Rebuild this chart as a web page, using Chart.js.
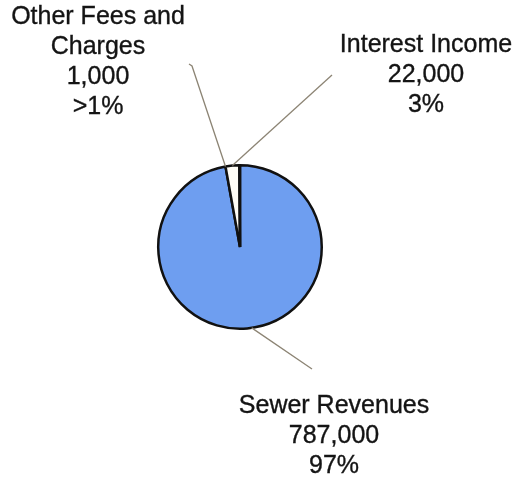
<!DOCTYPE html>
<html>
<head>
<meta charset="utf-8">
<script src="https://cdn.jsdelivr.net/npm/chart.js@4/dist/chart.umd.min.js"></script>
<style>
  html, body { margin: 0; padding: 0; background: #ffffff; }
  #wrap { position: relative; width: 516px; height: 480px; }
</style>
</head>
<body>
<div id="wrap"><canvas id="revenuePie" width="516" height="480"></canvas></div>
<script>
// Revenue sources
const categories = ['Sewer Revenues', 'Interest Income', 'Other Fees and Charges'];
const amounts = [787000, 22000, 1000];
const shareLabels = ['97%', '3%', '>1%'];

// Label blocks: text lines, centre position and leader-line end
const labelLayout = [
  { lines: ['Sewer Revenues'], x: 334, y: 406, end: [312, 369] },
  { lines: ['Interest Income'], x: 426, y: 45, end: [332, 75] },
  { lines: ['Other Fees and', 'Charges'], x: 98, y: 17, end: [192, 66] }
];
const LINE_STEP = 30;

const calloutPlugin = {
  id: 'callouts',
  afterDraw(chart) {
    const ctx = chart.ctx;
    const arcs = chart.getDatasetMeta(0).data;
    ctx.save();
    // leader lines
    ctx.strokeStyle = '#8c8474';
    ctx.lineWidth = 1.3;
    arcs.forEach((arc, i) => {
      const p = arc.getProps(['x', 'y', 'startAngle', 'endAngle', 'outerRadius'], true);
      let a;
      if (i === 2) {
        // the tiny slice: anchor on the left edge of the neighbouring wedge
        a = arcs[1].getProps(['startAngle'], true).startAngle;
      } else if (i === 0) {
        a = Math.atan2(330 - p.y, 252 - p.x);
      } else {
        a = (p.startAngle + p.endAngle) / 2;
      }
      const sx = p.x + Math.cos(a) * p.outerRadius;
      const sy = p.y + Math.sin(a) * p.outerRadius;
      const e = labelLayout[i].end;
      ctx.beginPath();
      ctx.moveTo(sx, sy);
      ctx.lineTo(e[0], e[1]);
      if (i === 2) ctx.lineTo(e[0] - 3, e[1] - 2);
      ctx.stroke();
    });
    // label text
    ctx.fillStyle = '#141414';
    ctx.strokeStyle = '#141414';
    ctx.lineWidth = 0.35;
    ctx.font = '25px "Liberation Sans", Arial, sans-serif';
    ctx.textAlign = 'center';
    ctx.textBaseline = 'middle';
    labelLayout.forEach((lab, i) => {
      const lines = lab.lines.concat([amounts[i].toLocaleString('en-US'), shareLabels[i]]);
      lines.forEach((t, k) => {
        ctx.fillText(t, lab.x, lab.y + k * LINE_STEP);
        ctx.strokeText(t, lab.x, lab.y + k * LINE_STEP);
      });
    });
    ctx.restore();
  }
};

new Chart(document.getElementById('revenuePie'), {
  type: 'pie',
  data: {
    labels: categories,
    datasets: [{
      data: amounts,
      backgroundColor: ['#6e9ef0', '#fffdf6', '#fffdf6'],
      borderColor: '#111111',
      borderWidth: 2.5
    }]
  },
  options: {
    responsive: false,
    animation: false,
    layout: { padding: { left: 157, right: 193, top: 164, bottom: 150 } },
    plugins: {
      legend: { display: false },
      tooltip: { enabled: false }
    }
  },
  plugins: [calloutPlugin]
});
</script>
</body>
</html>
